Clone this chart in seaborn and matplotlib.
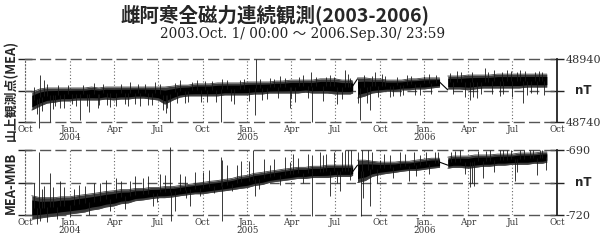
import numpy as np
import pandas as pd
import matplotlib
matplotlib.use("Agg")
import matplotlib.pyplot as plt
import matplotlib.dates as mdates
import seaborn as sns

sns.set_style("white")
plt.rcParams["font.family"] = ["DejaVu Sans", "Noto Sans CJK JP"]

# ---------------- data ----------------
seg1_dates = ["2003-10-15", "2003-11-01", "2003-11-15", "2003-12-01", "2003-12-15",
              "2004-01-01", "2004-01-15", "2004-02-01", "2004-02-15", "2004-03-01", "2004-03-15",
              "2004-04-01", "2004-04-15", "2004-05-01", "2004-05-15", "2004-06-01", "2004-06-15",
              "2004-07-01", "2004-07-15", "2004-08-01", "2004-08-15", "2004-09-01", "2004-09-15",
              "2004-10-01", "2004-10-15", "2004-11-01", "2004-11-15", "2004-12-01", "2004-12-15",
              "2005-01-01", "2005-01-15", "2005-02-01", "2005-02-15", "2005-03-01", "2005-03-15",
              "2005-04-01", "2005-04-15", "2005-05-01", "2005-05-15", "2005-06-01", "2005-06-15",
              "2005-07-01", "2005-07-15", "2005-08-01", "2005-08-06"]
seg2_dates = ["2005-08-16", "2005-09-01", "2005-09-15", "2005-10-01", "2005-10-15", "2005-11-01",
              "2005-11-15", "2005-12-01", "2005-12-15", "2006-01-01", "2006-01-15", "2006-02-01"]
seg3_dates = ["2006-02-18", "2006-03-01", "2006-03-15", "2006-04-01", "2006-04-15", "2006-05-01",
              "2006-05-15", "2006-06-01", "2006-06-15", "2006-07-01", "2006-07-15", "2006-08-01",
              "2006-08-15", "2006-09-01", "2006-09-10"]

# MEA total force (nT): upper / lower envelope of the noisy band
mea_hi1 = [48835, 48845, 48848, 48848, 48848, 48848, 48848, 48848, 48851, 48848, 48851,
           48851, 48851, 48851, 48851, 48851, 48851, 48851, 48851, 48854, 48857, 48857, 48861,
           48861, 48861, 48864, 48864, 48864, 48864, 48867, 48867, 48867, 48867, 48870, 48870,
           48873, 48873, 48873, 48873, 48877, 48877, 48877, 48873, 48873, 48870]
mea_lo1 = [48778, 48791, 48800, 48803, 48807, 48807, 48810, 48810, 48810, 48810, 48813,
           48810, 48813, 48813, 48816, 48816, 48813, 48810, 48797, 48810, 48819, 48823, 48823,
           48823, 48823, 48823, 48826, 48826, 48826, 48826, 48829, 48829, 48832, 48832, 48832,
           48832, 48832, 48835, 48832, 48832, 48832, 48829, 48829, 48829, 48832]
mea_hi2 = [48880, 48880, 48877, 48877, 48873, 48873, 48873, 48877, 48877, 48880, 48880, 48880]
mea_lo2 = [48816, 48823, 48832, 48835, 48838, 48838, 48842, 48842, 48845, 48845, 48848, 48851]
mea_hi3 = [48886, 48886, 48886, 48889, 48889, 48889, 48889, 48892, 48892, 48892, 48892, 48892,
           48892, 48892, 48892]
mea_lo3 = [48845, 48845, 48845, 48842, 48845, 48848, 48848, 48848, 48848, 48848, 48848, 48851,
           48851, 48851, 48851]
mea_gap1 = [48854, 48877]
mea_gap2 = [48867, 48842]

# large excursions
mea_spike_dates = ["2003-10-30", "2003-11-01", "2003-11-10", "2003-11-21", "2003-12-01", "2003-12-12",
                   "2004-01-05", "2004-01-22", "2004-02-10", "2004-02-20", "2004-03-01", "2004-03-24",
                   "2004-04-05", "2004-04-24", "2004-05-05", "2004-05-25", "2004-06-10", "2004-06-25",
                   "2004-07-11", "2004-07-26", "2004-08-15", "2004-08-25", "2004-09-20", "2004-10-10",
                   "2004-11-08", "2004-11-09", "2004-12-05", "2004-12-17", "2005-01-17", "2005-01-19",
                   "2005-02-01", "2005-02-16", "2005-03-10", "2005-03-30", "2005-04-10", "2005-04-25",
                   "2005-05-12", "2005-05-14", "2005-06-05", "2005-06-20", "2005-07-05", "2005-07-21",
                   "2005-07-28", "2005-08-21", "2005-09-10", "2005-09-21", "2005-10-05", "2005-10-21",
                   "2005-11-11", "2005-11-25", "2005-12-22", "2006-01-10", "2006-03-10", "2006-03-25",
                   "2006-04-04", "2006-04-20", "2006-05-05", "2006-05-25", "2006-06-05", "2006-06-20",
                   "2006-07-01", "2006-07-16", "2006-07-22", "2006-08-01", "2006-08-16", "2006-08-25",
                   "2006-09-05"]
mea_spike_vals = [48721, 48889, 48873, 48740, 48791, 48784,
                  48797, 48746, 48772, 48864, 48794, 48788,
                  48791, 48797, 48867, 48791, 48794, 48867,
                  48778, 48740, 48873, 48800, 48873, 48803,
                  48740, 48877, 48797, 48873, 48762, 48940,
                  48810, 48880, 48886, 48784, 48803, 48889,
                  48899, 48740, 48807, 48889, 48797, 48905,
                  48892, 48746, 48778, 48899, 48892, 48819,
                  48823, 48889, 48826, 48892, 48902, 48819,
                  48810, 48816, 48911, 48905, 48823, 48905,
                  48819, 48905, 48800, 48826, 48899, 48902,
                  48826]
# small excursions along the band edges
mea_small_dates = ["2003-10-20", "2003-10-25", "2003-11-05", "2003-11-15", "2003-11-28", "2003-12-08",
                   "2003-12-20", "2003-12-28", "2004-01-15", "2004-01-28", "2004-02-05", "2004-02-28",
                   "2004-03-10", "2004-03-18", "2004-04-15", "2004-04-30", "2004-05-15", "2004-05-20",
                   "2004-06-05", "2004-06-18", "2004-07-05", "2004-07-18", "2004-07-20", "2004-08-05",
                   "2004-08-10", "2004-09-01", "2004-09-10", "2004-09-28", "2004-10-05", "2004-10-20",
                   "2004-10-28", "2004-11-20", "2004-11-28", "2004-12-25", "2005-01-05", "2005-01-28",
                   "2005-02-10", "2005-02-25", "2005-03-05", "2005-03-20", "2005-04-01", "2005-04-18",
                   "2005-05-05", "2005-05-22", "2005-06-12", "2005-06-28", "2005-07-15", "2005-08-01",
                   "2005-08-18", "2005-08-30", "2005-09-05", "2005-09-15", "2005-09-28", "2005-10-12",
                   "2005-10-28", "2005-11-05", "2005-11-18", "2005-12-05", "2005-12-12", "2006-01-01",
                   "2006-01-15", "2006-01-25", "2006-02-22", "2006-03-01", "2006-03-18", "2006-04-08",
                   "2006-04-10", "2006-04-28", "2006-05-12", "2006-05-20", "2006-06-10", "2006-06-12",
                   "2006-06-28", "2006-07-10", "2006-07-28", "2006-08-08", "2006-08-20", "2006-09-01"]
mea_small_vals = [48850, 48765, 48775, 48860, 48780, 48858,
                  48785, 48857, 48790, 48858, 48792, 48785,
                  48860, 48795, 48860, 48792, 48797, 48860,
                  48862, 48795, 48862, 48770, 48785, 48864,
                  48800, 48805, 48868, 48805, 48870, 48870,
                  48805, 48872, 48808, 48875, 48808, 48876,
                  48812, 48878, 48815, 48880, 48815, 48882,
                  48815, 48882, 48884, 48882, 48812, 48880,
                  48800, 48888, 48800, 48886, 48818, 48886,
                  48822, 48884, 48825, 48885, 48826, 48887,
                  48830, 48888, 48895, 48830, 48898, 48898,
                  48820, 48828, 48900, 48828, 48900, 48830,
                  48902, 48900, 48902, 48832, 48830, 48900]

# MEA - MMB difference (nT)
dif_hi1 = [-711.1, -712.0, -712.0, -712.0, -711.6, -711.6, -711.1, -710.6, -710.2, -709.7, -709.2,
           -708.8, -708.3, -708.3, -707.8, -707.8, -707.3, -707.3, -706.9, -706.9, -706.4, -705.9,
           -705.5, -705.0, -704.5, -704.1, -703.6, -703.1, -702.2, -701.7, -700.8, -700.3, -699.8,
           -699.4, -698.9, -698.4, -698.0, -698.0, -697.5, -697.5, -697.0, -697.0, -697.0, -697.0,
           -697.0]
dif_lo1 = [-721.9, -721.4, -720.9, -720.5, -720.0, -719.5, -719.1, -718.6, -717.7, -717.2, -716.3,
           -715.8, -714.8, -714.4, -713.4, -713.0, -712.5, -712.0, -712.0, -711.6, -711.1, -710.6,
           -710.2, -710.2, -709.7, -709.2, -708.8, -708.3, -707.8, -707.3, -706.4, -705.9, -705.0,
           -704.5, -704.1, -703.6, -703.1, -703.1, -702.7, -702.7, -702.7, -702.2, -702.2, -702.2,
           -701.7]
dif_hi2 = [-694.7, -694.7, -695.2, -695.6, -695.6, -695.6, -695.2, -695.2, -694.7, -694.2, -693.8, -693.8]
dif_lo2 = [-705.0, -704.1, -702.2, -701.3, -700.8, -700.3, -699.8, -699.4, -699.4, -698.9, -698.4, -698.0]
dif_hi3 = [-693.3, -692.8, -692.8, -692.8, -692.3, -692.3, -692.3, -691.9, -691.9, -691.9, -691.4,
           -691.4, -691.4, -690.9, -690.9]
dif_lo3 = [-698.4, -698.0, -698.0, -698.4, -698.0, -697.5, -697.5, -697.0, -697.0, -696.6, -696.6,
           -696.6, -696.1, -696.1, -695.6]
dif_gap1 = [-700.0, -697.0]
dif_gap2 = [-695.6, -697.0]

dif_spike_dates = ["2003-10-30", "2003-10-31", "2003-11-10", "2003-11-21", "2003-12-12", "2004-01-10",
                   "2004-02-02", "2004-03-03", "2004-04-15", "2004-05-04", "2004-06-01", "2004-06-20",
                   "2004-07-15", "2004-07-26", "2004-07-27", "2004-08-05", "2004-08-25", "2004-09-05",
                   "2004-10-01", "2004-11-08", "2004-11-09", "2004-11-10", "2004-12-10", "2005-01-12",
                   "2005-01-17", "2005-02-16", "2005-03-30", "2005-04-15", "2005-05-14", "2005-05-15",
                   "2005-05-30", "2005-06-05", "2005-06-20", "2005-07-10", "2005-07-21", "2005-07-27",
                   "2005-08-02", "2005-08-23", "2005-08-25", "2005-09-06", "2005-09-10", "2005-10-01",
                   "2005-10-21", "2005-11-11", "2005-12-01", "2005-12-22", "2006-01-22", "2006-02-25",
                   "2006-03-15", "2006-04-04", "2006-04-14", "2006-05-01", "2006-05-15", "2006-06-05",
                   "2006-06-20", "2006-07-06", "2006-07-16", "2006-08-06", "2006-08-20", "2006-09-01"]
dif_spike_vals = [-690.9, -722.8, -706.4, -700.8, -704.1, -707.8,
                  -706.4, -705.0, -704.1, -704.1, -703.1, -715.8,
                  -701.7, -688.6, -722.8, -718.1, -702.2, -715.8,
                  -700.3, -693.3, -722.8, -694.7, -697.0, -690.0,
                  -711.1, -697.0, -695.6, -693.8, -692.3, -720.5,
                  -690.9, -692.3, -711.1, -708.8, -690.0, -690.0,
                  -690.0, -720.5, -690.0, -690.0, -715.8, -694.7,
                  -692.3, -690.9, -704.1, -692.3, -690.9, -690.9,
                  -690.0, -707.3, -706.4, -703.1, -690.0, -690.0,
                  -690.0, -704.1, -690.0, -690.0, -701.7, -690.0]
dif_small_dates = ["2003-10-20", "2003-10-25", "2003-11-05", "2003-11-15", "2003-11-28", "2003-12-05",
                   "2003-12-20", "2004-01-01", "2004-01-20", "2004-02-10", "2004-02-20", "2004-03-15",
                   "2004-03-25", "2004-04-05", "2004-04-25", "2004-05-15", "2004-06-10", "2004-06-28",
                   "2004-07-05", "2004-08-15", "2004-08-28", "2004-09-15", "2004-09-25", "2004-10-15",
                   "2004-10-25", "2004-11-20", "2004-12-01", "2004-12-20", "2005-01-05", "2005-01-25",
                   "2005-02-05", "2005-02-25", "2005-03-10", "2005-03-20", "2005-04-05", "2005-04-25",
                   "2005-05-05", "2005-06-12", "2005-06-28", "2005-07-05", "2005-07-15", "2005-08-01",
                   "2005-08-18", "2005-08-28", "2005-09-15", "2005-09-25", "2005-10-10", "2005-10-28",
                   "2005-11-22", "2005-12-10", "2005-12-15", "2006-01-05", "2006-01-10", "2006-01-28",
                   "2006-03-05", "2006-03-25", "2006-04-08", "2006-04-22", "2006-05-08", "2006-05-25",
                   "2006-06-12", "2006-06-28", "2006-07-10", "2006-07-25", "2006-08-12", "2006-08-28",
                   "2006-09-08"]
dif_small_vals = [-705.0, -724.0, -708.0, -723.0, -707.0, -722.0,
                  -707.0, -721.0, -706.0, -720.0, -705.0, -704.0,
                  -718.0, -703.0, -717.0, -702.0, -702.0, -714.0,
                  -701.0, -701.0, -712.0, -700.0, -711.0, -699.0,
                  -710.0, -697.0, -709.0, -695.0, -695.0, -708.0,
                  -694.0, -694.0, -706.0, -693.0, -692.0, -705.0,
                  -692.0, -692.0, -691.0, -705.0, -691.0, -704.0,
                  -691.0, -712.0, -691.0, -705.0, -692.0, -703.0,
                  -692.0, -691.0, -702.0, -691.0, -701.0, -691.0,
                  -690.5, -701.0, -705.0, -690.5, -690.3, -700.0,
                  -690.2, -690.2, -700.0, -690.0, -690.0, -690.0,
                  -699.0]

tick_dates = ["2003-10-01", "2004-01-01", "2004-04-01", "2004-07-01", "2004-10-01", "2005-01-01",
              "2005-04-01", "2005-07-01", "2005-10-01", "2006-01-01", "2006-04-01", "2006-07-01",
              "2006-10-01"]
tick_labels = ["Oct", "Jan.\n2004", "Apr", "Jul", "Oct", "Jan.\n2005", "Apr", "Jul", "Oct",
               "Jan.\n2006", "Apr", "Jul", "Oct"]

panels = [
    dict(hi=[mea_hi1, mea_hi2, mea_hi3], lo=[mea_lo1, mea_lo2, mea_lo3], gaps=[mea_gap1, mea_gap2],
         sd=mea_spike_dates + mea_small_dates, sv=mea_spike_vals + mea_small_vals,
         lim=(48740, 48940), labs=["48740", "", "48940"], ylabel="山上観測点(MEA)"),
    dict(hi=[dif_hi1, dif_hi2, dif_hi3], lo=[dif_lo1, dif_lo2, dif_lo3], gaps=[dif_gap1, dif_gap2],
         sd=dif_spike_dates + dif_small_dates, sv=dif_spike_vals + dif_small_vals,
         lim=(-720, -690), labs=["-720", "", "-690"], ylabel="MEA-MMB"),
]

segs = [seg1_dates, seg2_dates, seg3_dates]
gap_dates = [[seg1_dates[-1], seg2_dates[0]], [seg2_dates[-1], seg3_dates[0]]]

# ---------------- figure ----------------
fig = plt.figure(figsize=(6.0, 2.42), dpi=100)
fig.patch.set_facecolor("white")

W, H = 600.0, 242.0
x0, x1 = 25, 557
boxes = [(59, 122), (150, 215)]
serif = ["DejaVu Serif", "Noto Sans CJK JP"]
dash_col = "#555555"

for p, (yt, yb) in zip(panels, boxes):
    ax = fig.add_axes([x0 / W, 1 - yb / H, (x1 - x0) / W, (yb - yt) / H])
    lo_lim, hi_lim = p["lim"]
    mid = (lo_lim + hi_lim) / 2

    # band segments: grey fringe with black core
    for d, hi, lo in zip(segs, p["hi"], p["lo"]):
        dd = pd.to_datetime(d)
        hi = np.array(hi, float)
        lo = np.array(lo, float)
        w = hi - lo
        ax.fill_between(dd, lo, hi, color="#3a3a3a", lw=0, clip_on=False, zorder=3)
        ax.fill_between(dd, lo + 0.18 * w, hi - 0.18 * w, color="black", lw=0,
                        clip_on=False, zorder=3)
        sns.lineplot(x=dd, y=hi, ax=ax, color="#444444", lw=0.6, zorder=3, clip_on=False)
        sns.lineplot(x=dd, y=lo, ax=ax, color="#444444", lw=0.6, zorder=3, clip_on=False)
    for gd, gv in zip(gap_dates, p["gaps"]):
        sns.lineplot(x=pd.to_datetime(gd), y=gv, ax=ax, color="black", lw=0.8, zorder=3)

    # excursions
    all_d = pd.to_datetime(sum(segs, []))
    centers = (np.array(sum(p["hi"], [])) + np.array(sum(p["lo"], []))) / 2
    sd = pd.to_datetime(p["sd"])
    base = np.interp(mdates.date2num(sd), mdates.date2num(all_d), centers)
    ax.vlines(sd, base, p["sv"], color="#1a1a1a", lw=0.6, zorder=3, clip_on=False)

    ax.set_xlim(pd.Timestamp("2003-10-01"), pd.Timestamp("2006-10-01"))
    ax.set_ylim(lo_lim, hi_lim)
    ax.set_xlabel("")
    ax.set_ylabel("")
    ax.axhline(mid, color=dash_col, lw=1.0, ls=(0, (7, 4)), zorder=2)

    # spines
    for s in ["top", "bottom"]:
        ax.spines[s].set_linestyle((0, (7, 4)))
        ax.spines[s].set_color(dash_col)
        ax.spines[s].set_linewidth(1.0)
    ax.spines["left"].set_linestyle((0, (1, 2)))
    ax.spines["left"].set_color("#666666")
    ax.spines["left"].set_linewidth(0.8)
    ax.spines["right"].set_color("#222222")
    ax.spines["right"].set_linewidth(1.3)
    ax.spines["right"].set_zorder(5)

    # x ticks
    ax.set_xticks(pd.to_datetime(tick_dates))
    ax.set_xticklabels(tick_labels)
    ax.xaxis.set_minor_locator(mdates.MonthLocator())
    ax.tick_params(axis="x", which="both", direction="inout", length=4, width=0.8,
                   color=dash_col, pad=0.3, labelsize=6.3, labelcolor="#333333")
    for t in ax.get_xticklabels():
        t.set_family(serif)
        t.set_linespacing(0.85)
    ax.grid(axis="x", which="major", linestyle=(0, (1, 2)), color="#666666", lw=0.8)

    # y ticks on right
    ax.yaxis.tick_right()
    ax.set_yticks([lo_lim, mid, hi_lim])
    ax.set_yticklabels(p["labs"])
    ax.tick_params(axis="y", direction="inout", length=10, width=1.0, color="#222222",
                   pad=1, labelsize=8, labelcolor="#333333", left=True)
    for t in ax.get_yticklabels():
        t.set_family(serif)
    ax.text(1.033, 0.5, "nT", transform=ax.transAxes, ha="left", va="center",
            fontsize=8.5, fontweight="bold", family=["DejaVu Sans"])
    fig.text(11 / W, 1 - (yt + yb) / 2 / H, p["ylabel"], rotation=90, ha="center", va="center",
             fontsize=9.3, fontweight="bold", family=["Noto Sans CJK JP", "DejaVu Sans"])

fig.text(275 / W, 1 - 15 / H, "雌阿寒全磁力連続観測(2003-2006)", ha="center", va="center",
         fontsize=14, fontweight="bold", family=["Noto Sans CJK JP", "DejaVu Sans"])
fig.text(303 / W, 1 - 34 / H, "2003.Oct. 1/ 00:00 ～ 2006.Sep.30/ 23:59", ha="center", va="center",
         fontsize=9.8, family=serif, color="#222222")

fig.savefig("out.png", dpi=100, facecolor="white")
